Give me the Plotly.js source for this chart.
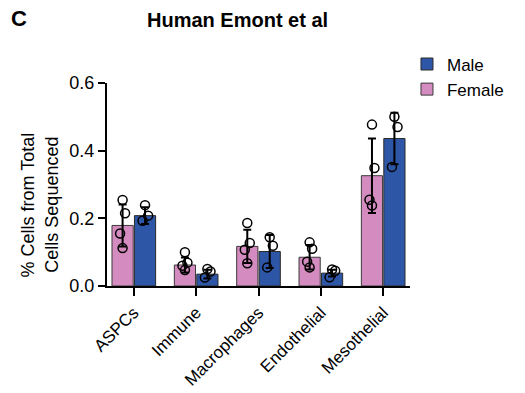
<!DOCTYPE html>
<html>
<head>
<meta charset="utf-8">
<script src="https://cdn.plot.ly/plotly-3.0.1.min.js"></script>
<style>html,body{margin:0;padding:0;background:#fff;}#chart{width:525px;height:393px;}</style>
</head>
<body>
<div id="chart"></div>
<script>
// ---- data ----
const categories = ["ASPCs", "Immune", "Macrophages", "Endothelial", "Mesothelial"];
const femaleMean = [0.179, 0.062, 0.117, 0.085, 0.326];
const femaleSD   = [0.062, 0.022, 0.049, 0.036, 0.110];
const maleMean   = [0.208, 0.035, 0.102, 0.038, 0.436];
const maleSD     = [0.025, 0.013, 0.049, 0.010, 0.076];
const femalePoints = [
  [0.254, 0.215, 0.155, 0.112],
  [0.100, 0.069, 0.060, 0.047],
  [0.186, 0.127, 0.107, 0.067],
  [0.129, 0.110, 0.072, 0.055],
  [0.477, 0.349, 0.255, 0.238]
];
const malePoints = [
  [0.239, 0.208, 0.193],
  [0.050, 0.043, 0.025],
  [0.144, 0.119, 0.055],
  [0.049, 0.045, 0.026],
  [0.500, 0.470, 0.352]
];
const yTitleLines = ["% Cells from Total", "Cells Sequenced"];

// ---- styling / positions ----
const pink = "#d48bbf", blue = "#2e56a6";
const barW = 0.34, half = 0.18;
const jitterF = [0.0, 0.04, -0.04, 0.0];
const jitterM = [0.0, 0.05, -0.04];
const idx = categories.map((c, i) => i);

function pts(points, side, jit) {
  const x = [], y = [];
  points.forEach((arr, i) => arr.forEach((v, k) => { x.push(i + side + jit[k % jit.length]); y.push(v); }));
  return {x, y};
}
const fp = pts(femalePoints, -half, jitterF);
const mp = pts(malePoints, half, jitterM);

const errStyle = {type: "data", visible: true, color: "#000", thickness: 2, width: 4};
const markerStyle = {symbol: "circle-open", size: 9, color: "#000", line: {width: 1.5, color: "#000"}};

const traces = [
  {type: "bar", name: "Female", x: idx.map(i => i - half), y: femaleMean, width: barW,
   marker: {color: pink, line: {color: "#3a3a3a", width: 1}},
   error_y: Object.assign({array: femaleSD}, errStyle), legendrank: 2},
  {type: "bar", name: "Male", x: idx.map(i => i + half), y: maleMean, width: barW,
   marker: {color: blue, line: {color: "#2a2a2a", width: 1}},
   error_y: Object.assign({array: maleSD}, errStyle), legendrank: 1},
  {type: "scatter", mode: "markers", x: fp.x, y: fp.y, showlegend: false, hoverinfo: "skip", marker: markerStyle},
  {type: "scatter", mode: "markers", x: mp.x, y: mp.y, showlegend: false, hoverinfo: "skip", marker: markerStyle}
];

const font = {family: "Liberation Sans, Arial, sans-serif", color: "#000"};

const layout = {
  width: 525, height: 393,
  margin: {l: 107, r: 115, t: 83, b: 107},
  paper_bgcolor: "#fff", plot_bgcolor: "#fff",
  barmode: "overlay",
  font: Object.assign({size: 17}, font),
  showlegend: true,
  legend: {x: 0.99, y: 1.18, xanchor: "left", yanchor: "top", font: {size: 17}, tracegroupgap: 2,
           bgcolor: "rgba(0,0,0,0)"},
  xaxis: {
    range: [-0.43, 4.43], tickmode: "array", tickvals: idx, ticktext: categories,
    tickangle: -45, ticks: "outside", ticklen: 8, tickwidth: 2, tickcolor: "#000",
    showline: true, linecolor: "#000", linewidth: 2, showgrid: false, zeroline: false,
    tickfont: {size: 17}, fixedrange: true
  },
  yaxis: {
    range: [0, 0.6], tickvals: [0, 0.2, 0.4, 0.6], ticktext: ["0.0", "0.2", "0.4", "0.6"],
    ticks: "outside", ticklen: 7, tickwidth: 2, tickcolor: "#000",
    showline: true, linecolor: "#000", linewidth: 2, showgrid: false, zeroline: false,
    tickfont: {size: 18}
  },
  annotations: [
    {text: "<b>Human Emont et al</b>", xref: "paper", yref: "paper", x: 0.43, y: 1.31,
     xanchor: "center", yanchor: "middle", showarrow: false, font: {size: 20}},
    {text: "<b>C</b>", xref: "paper", yref: "paper", x: -0.29, y: 1.32,
     xanchor: "center", yanchor: "middle", showarrow: false, font: {size: 22}},
    {text: yTitleLines[0], xref: "paper", yref: "paper", x: -0.262, y: 0.40, textangle: -90,
     xanchor: "center", yanchor: "middle", showarrow: false, font: {size: 18}},
    {text: yTitleLines[1], xref: "paper", yref: "paper", x: -0.182, y: 0.40, textangle: -90,
     xanchor: "center", yanchor: "middle", showarrow: false, font: {size: 18}}
  ]
};

Plotly.newPlot("chart", traces, layout, {displayModeBar: false, staticPlot: true});
</script>
</body>
</html>
